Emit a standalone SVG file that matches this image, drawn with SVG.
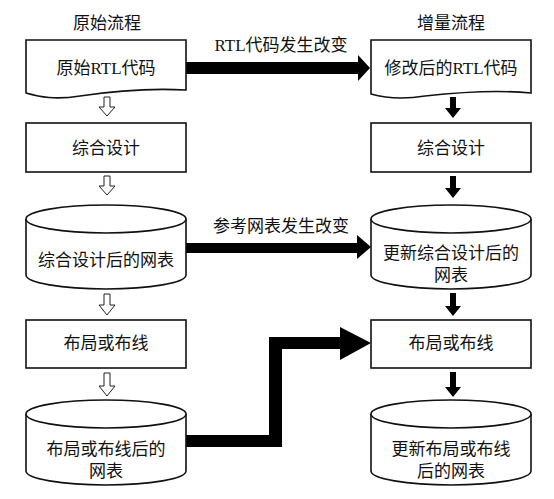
<svg xmlns="http://www.w3.org/2000/svg" width="554" height="499" viewBox="0 0 554 499">
<style>
text{font-family:"Liberation Serif","Noto Sans CJK SC",serif;font-size:17px;fill:#111;text-anchor:middle}
.shape{fill:#fff;stroke:#111;stroke-width:1.6}
.hollow{fill:#fff;stroke:#222;stroke-width:1}
.solid{fill:#000}
.big{fill:#000}
</style>
<rect width="554" height="499" fill="#fff"/>
<g id="titles">
<text x="107" y="29">原始流程</text>
<text x="451" y="29">增量流程</text>
</g>
<g id="connectors">
<path class="hollow" d="M104,97 H110 V107 H115 L107,116 L99,107 H104 Z"/>
<path class="hollow" d="M104,176 H110 V186 H115 L107,195 L99,186 H104 Z"/>
<path class="hollow" d="M104,294 H110 V305 H115 L107,315 L99,305 H104 Z"/>
<path class="hollow" d="M104,373 H110 V386 H115 L107,396 L99,386 H104 Z"/>
<path class="solid" d="M450,97 H456 V108 H461 L453,118 L445,108 H450 Z"/>
<path class="solid" d="M450,176 H456 V188 H461 L453,198 L445,188 H450 Z"/>
<path class="solid" d="M450,293 H456 V306 H461 L453,316 L445,306 H450 Z"/>
<path class="solid" d="M450,372 H456 V387 H461 L453,397 L445,387 H450 Z"/>
<path class="big" d="M186,62 H358 V55 L370,68 L358,81 V74 H186 Z"/>
<path class="big" d="M186,243 H357 V235 L371,247 L357,259 V253 H186 Z"/>
<path class="big" d="M186,435 H269 V337 H340 V327 L371,343 L340,360 V349 H282 V447 H186 Z"/>
<text x="281" y="51">RTL代码发生改变</text>
<text x="281" y="232">参考网表发生改变</text>
</g>
<g id="n1">
<path class="shape" d="M26,40 H186 V90 C150,88 120,90 80,96 C55,100 40,97 26,93 Z"/>
<text x="106" y="74">原始RTL代码</text>
</g>
<g id="n2">
<rect class="shape" x="26" y="123" width="160" height="49"/>
<text x="106" y="154">综合设计</text>
</g>
<g id="n3">
<path class="shape" d="M26,219 V275 A80,14 0 0 0 186,275 V219"/>
<ellipse class="shape" cx="106" cy="219" rx="80" ry="14"/>
<text x="106" y="266">综合设计后的网表</text>
</g>
<g id="n4">
<rect class="shape" x="26" y="320" width="160" height="48"/>
<text x="106" y="349">布局或布线</text>
</g>
<g id="n5">
<path class="shape" d="M26,414 V471 A80,14 0 0 0 186,471 V414"/>
<ellipse class="shape" cx="106" cy="414" rx="80" ry="14"/>
<text x="106" y="455">布局或布线后的</text>
<text x="106" y="477">网表</text>
</g>
<g id="m1">
<path class="shape" d="M371,40 H531 V93 C500,90 470,91 425,96 C400,100 385,98 371,94 Z"/>
<text x="451" y="74">修改后的RTL代码</text>
</g>
<g id="m2">
<rect class="shape" x="371" y="123" width="160" height="49"/>
<text x="451" y="154">综合设计</text>
</g>
<g id="m3">
<path class="shape" d="M371,219 V275 A80,14 0 0 0 531,275 V219"/>
<ellipse class="shape" cx="451" cy="219" rx="80" ry="14"/>
<text x="451" y="259">更新综合设计后的</text>
<text x="451" y="281">网表</text>
</g>
<g id="m4">
<rect class="shape" x="371" y="320" width="160" height="48"/>
<text x="451" y="349">布局或布线</text>
</g>
<g id="m5">
<path class="shape" d="M371,414 V471 A80,14 0 0 0 531,471 V414"/>
<ellipse class="shape" cx="451" cy="414" rx="80" ry="14"/>
<text x="451" y="455">更新布局或布线</text>
<text x="451" y="477">后的网表</text>
</g>
</svg>
